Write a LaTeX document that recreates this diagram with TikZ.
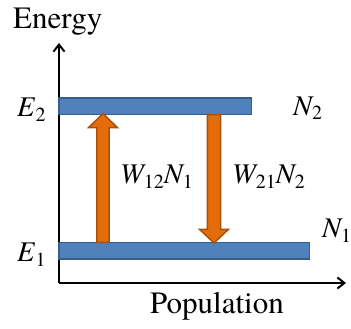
\documentclass[tikz,border=0pt]{standalone}
\usepackage{fontspec}
\setmainfont{TeX Gyre Termes}
\usetikzlibrary{arrows.meta}
\definecolor{barfill}{RGB}{79,129,189}
\definecolor{barline}{RGB}{56,93,138}
\definecolor{arrfill}{RGB}{228,108,10}
\definecolor{arrline}{RGB}{170,80,10}
\newcommand{\lowsub}[1]{\raisebox{-5pt}{\fontsize{20}{20}\selectfont #1}}
\tikzset{
  bar/.style={fill=barfill, draw=barline, line width=1.5pt},
  trans/.style={fill=arrfill, draw=arrline, line width=1.5pt, line join=miter},
  axis/.style={line width=2pt, -{Straight Barb[length=7pt,width=11pt,line width=2pt]}},
  lbl/.style={inner sep=0pt, anchor=base west, font=\fontsize{31}{34}\selectfont},
  ilbl/.style={inner sep=0pt, anchor=base west, font=\fontsize{28.5}{34}\selectfont\itshape},
}
\begin{document}
\begin{tikzpicture}[x=1pt,y=-1pt]
\useasboundingbox (0,0) rectangle (351,329);
% axes
\coordinate (origin) at (59,283);
\coordinate (ytip) at (59,43);
\coordinate (xtip) at (346,283);
\draw[axis] (origin) -- (ytip);
\draw[axis] (origin) -- (xtip);
% bars
\draw[bar] (59,98) rectangle (251.5,114.5);
\draw[bar] (59,242.5) rectangle (309.5,259);
% up arrow
\draw[trans] (96.8,242.3) -- (96.8,127.7) -- (88.5,127.7) -- (103,113.5) -- (117.5,127.7) -- (109.2,127.7) -- (109.2,242.3) -- cycle;
% down arrow
\draw[trans] (207.3,114.5) -- (207.3,229.3) -- (199.5,229.3) -- (214,243) -- (228.5,229.3) -- (220.7,229.3) -- (220.7,114.5) -- cycle;
% labels
\node[lbl] (energy) at (13,28.5) {Energy};
\node[lbl] (pop) at (150,313) {Population};
\node[ilbl] (e2) at (17,116.5) {E\kern1pt\lowsub{\upshape 2}};
\node[ilbl] (e1) at (17,261) {E\kern1pt\lowsub{\upshape 1}};
\node[ilbl] (n2) at (293,115) {N\lowsub{\upshape 2}};
\node[ilbl] (n1) at (322,237) {N\lowsub{\upshape 1}};
\node[ilbl] (w12) at (120,183) {W\lowsub{\upshape 12}N\lowsub{\upshape 1}};
\node[ilbl] (w21) at (232,183) {W\lowsub{\upshape 21}N\lowsub{\upshape 2}};
\end{tikzpicture}
\end{document}
